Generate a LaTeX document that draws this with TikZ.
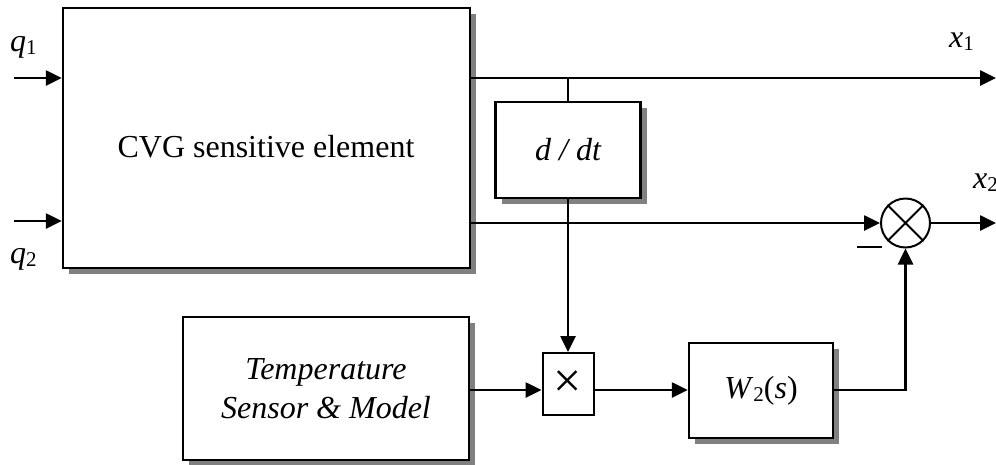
\documentclass[tikz,border=0pt]{standalone}
\usepackage{fontspec}
\setmainfont{Liberation Serif}
\usetikzlibrary{arrows.meta,calc,shadows}
\newcommand{\lsub}[1]{\raisebox{-3pt}{\fontsize{21}{21}\selectfont #1}}
\begin{document}
\begin{tikzpicture}[x=1pt,y=-1pt,
  font=\fontsize{32}{39}\selectfont,
  blk/.style={draw, line width=2.5pt, fill=white, inner sep=0pt,
    drop shadow={shadow xshift=6pt, shadow yshift=-6pt, fill=black!50, opacity=1}},
  smallblk/.style={draw, line width=2pt, fill=white, inner sep=0pt},
  ln/.style={line width=2.6pt},
  arr/.style={line width=2.6pt, -{Triangle[length=16pt,width=15pt]}},
  lbl/.style={inner sep=0pt, anchor=base west}]
\useasboundingbox[fill=white] (0,0) rectangle (996,464);
% blocks
\node[blk, minimum width=407pt, minimum height=260pt] (cvg) at (266.5,138) {};
\node[inner sep=0pt] (cvgt) at (266,147) {CVG sensitive element};
\node[blk, minimum width=145pt, minimum height=96pt, font=\fontsize{32}{39}\selectfont\itshape] (ddt) at (568,150) {d / dt};
\node[blk, minimum width=286pt, minimum height=143pt, align=center, font=\fontsize{32}{39}\selectfont\itshape] (temp) at (326,388.5) {Temperature\\Sensor \& Model};
\node[smallblk, minimum width=51pt, minimum height=62pt] (mult) at (568,384) {\raisebox{-3pt}{\fontsize{50}{50}\selectfont ×}};
\node[blk, minimum width=144pt, minimum height=95pt] (w2) at (761,390.5) {\textit{W}\lsub{2}(\textit{s})};
\node[draw, circle, line width=2pt, minimum size=49pt, inner sep=0pt] (sum) at (905.5,223) {};
\draw[line width=2pt] (sum.45) -- (sum.225) (sum.135) -- (sum.315);
% labels
\node[lbl] (q1) at (10,51) {\textit{q}\lsub{1}};
\node[lbl] (q2) at (10,263) {\textit{q}\lsub{2}};
\node[lbl] (x1) at (949,47) {\textit{x}\lsub{1}};
\node[lbl] (x2) at (973,188) {\textit{x}\lsub{2}};
\node[inner sep=0pt] (minus) at (869.5,247) {\rule{25pt}{2.5pt}};
% coordinates
\coordinate (q1in) at (14,78);
\coordinate (q2in) at (14,221);
\coordinate (x1out) at (996,78);
\coordinate (x2out) at (996,223);
\coordinate (jn) at (568,78);
\coordinate (cy) at (0,390);
\coordinate (turn) at (905.5,390);
% connectors
\draw[arr] (q1in) -- (q1in -| cvg.west);
\draw[arr] (q2in) -- (q2in -| cvg.west);
\draw[arr] (x1out -| cvg.east) -- (x1out);
\draw[ln] (jn) -- (ddt.north);
\draw[arr] (sum.west -| cvg.east) -- (sum.west);
\draw[arr] (ddt.south) -- (mult.north);
\draw[arr] (cy -| temp.east) -- (cy -| mult.west);
\draw[arr] (cy -| mult.east) -- (cy -| w2.west);
\draw[arr] (cy -| w2.east) -- (turn) -- (sum.south);
\draw[arr] (sum.east) -- (x2out);
\end{tikzpicture}
\end{document}
